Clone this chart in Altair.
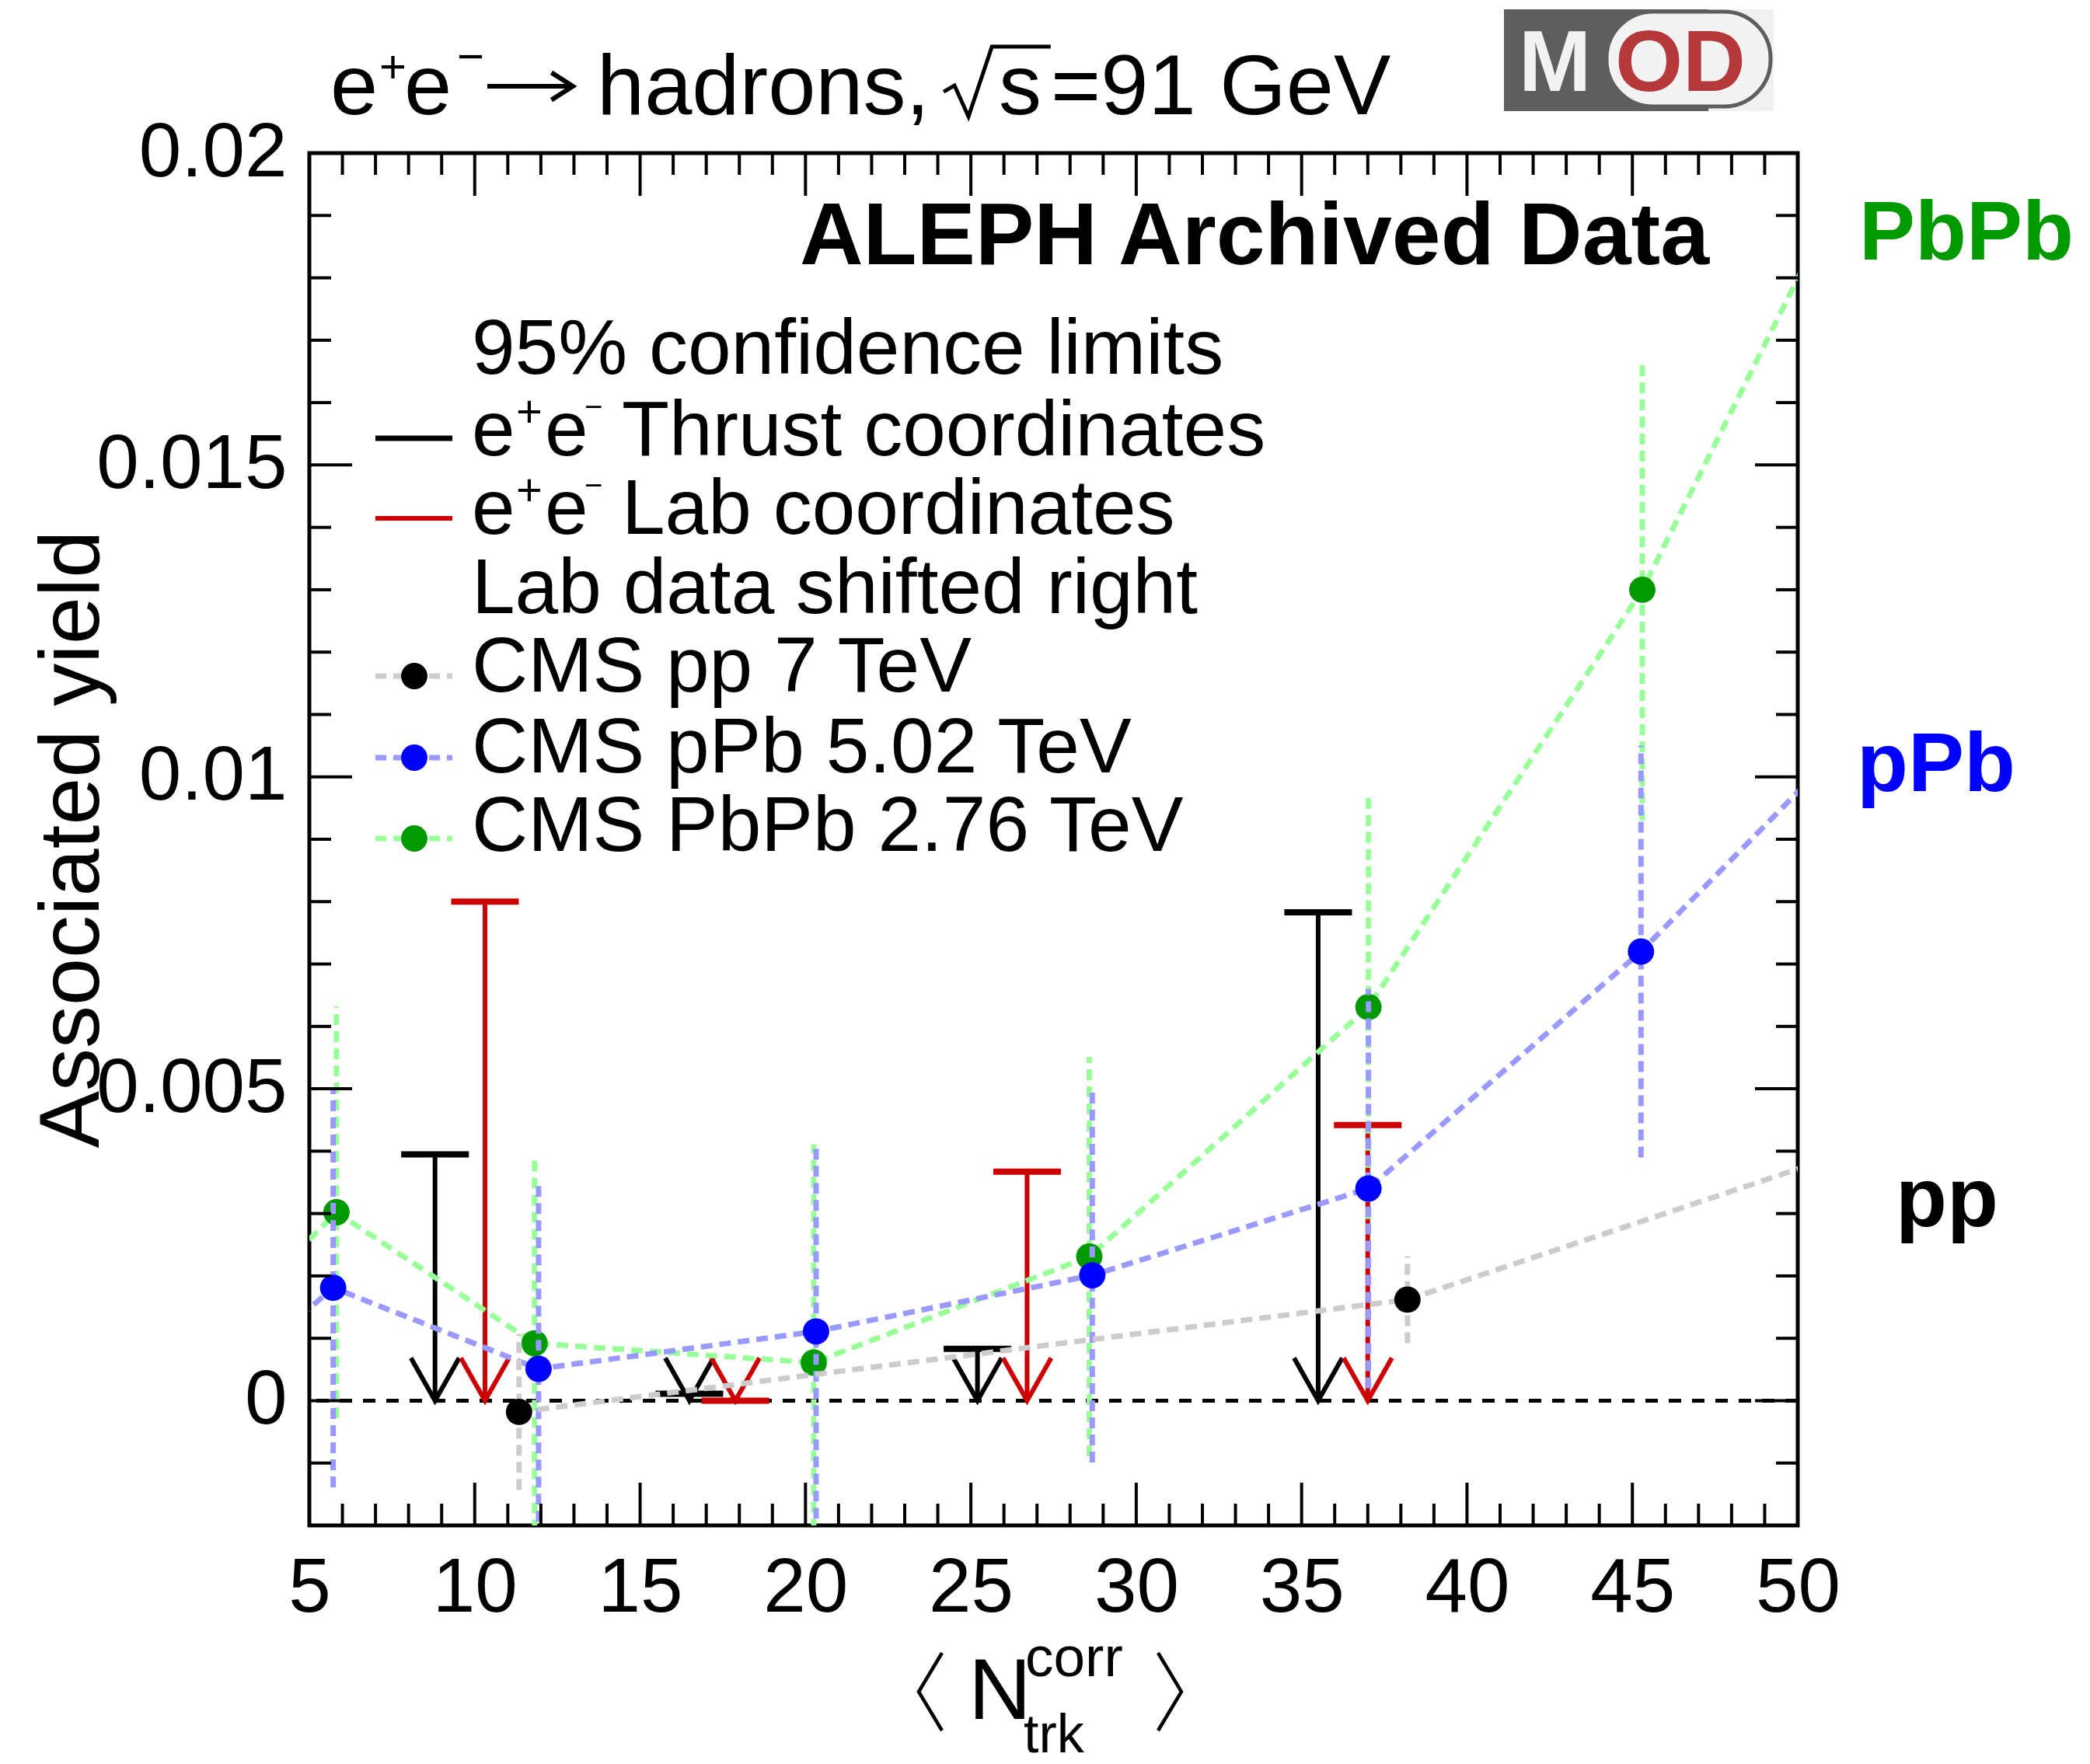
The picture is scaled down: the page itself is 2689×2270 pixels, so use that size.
import altair as alt
import pandas as pd

FONT = "Liberation Sans"

# ---------------- data ----------------
# CMS pp 7 TeV  (last point lies beyond the frame, only its connecting line shows)
pp_x = [11.34, 38.20, 55.0]
pp_y = [-0.00018, 0.00162, 0.0046]
pp_err = [0.00125, 0.00070, 0.00070]

# CMS pPb 5.02 TeV  (first / last points lie outside the frame)
ppb_x = [3.0, 5.72, 11.93, 20.32, 28.67, 37.02, 45.26, 55.0]
ppb_y = [0.00056, 0.00181, 0.00051, 0.00111, 0.00201, 0.00340, 0.00720, 0.01245]
ppb_err = [0.0031, 0.0032, 0.0030, 0.0030, 0.0030, 0.0032, 0.0033, 0.0035]

# CMS PbPb 2.76 TeV
pbpb_x = [3.0, 5.82, 11.81, 20.25, 28.58, 37.02, 45.30, 55.0]
pbpb_y = [0.00152, 0.00302, 0.00092, 0.00061, 0.00231, 0.00631, 0.01300, 0.02330]
pbpb_err = [0.0033, 0.0033, 0.0030, 0.0035, 0.0032, 0.0034, 0.0037, 0.0040]

# ALEPH 95% upper limits
thrust_x = [8.80, 16.49, 25.20, 35.50]
thrust_lim = [0.00395, 0.00011, 0.00083, 0.00783]
lab_x = [10.31, 17.88, 26.70, 37.00]
lab_lim = [0.00800, 0.00000, 0.00367, 0.00442]

# axis ticks / labels
x_labels = [5, 10, 15, 20, 25, 30, 35, 40, 45, 50]
x_minor = [v for v in range(6, 50) if v % 5 != 0]
y_labels = [0, 0.005, 0.01, 0.015, 0.02]
y_minor = [round(k * 0.001, 3) for k in range(-2, 21) if k % 5 != 0]

legend_rows = ["95% confidence limits", "Thrust coordinates", "Lab coordinates",
               "Lab data shifted right", "CMS pp 7 TeV", "CMS pPb 5.02 TeV",
               "CMS PbPb 2.76 TeV"]

# ---------------- layout ----------------
W, H = 1915, 1766
PAD = {"left": 398, "top": 197, "right": 376, "bottom": 307}

xs = alt.Scale(domain=[5, 50], nice=False, zero=False)
ys = alt.Scale(domain=[-0.002, 0.02], nice=False, zero=False)
xax = alt.Axis(values=x_labels, title=None, ticks=False, domain=False, grid=False,
               labelFont=FONT, labelFontSize=98, labelColor="black", labelPadding=33,
               labelFlush=False, labelOverlap=False, labelLimit=600)
yax = alt.Axis(values=y_labels, format="~g", title=None, ticks=False, domain=False,
               grid=False, labelFont=FONT, labelFontSize=98, labelColor="black",
               labelPadding=29, labelFlush=False, labelOverlap=False, labelLimit=600)


def X(f):
    return alt.X(f"{f}:Q", scale=xs, axis=xax)


def Y(f):
    return alt.Y(f"{f}:Q", scale=ys, axis=yax)


Y0 = alt.Y(datum=0, scale=ys, axis=yax)
one = pd.DataFrame({"k": [0]})

ARROW = "M-1,-1.77L0,0L1,-1.77"
RED = "#cc0000"
MSIZE = 1150


def series(x, y, err, line_col, mark_col):
    df = pd.DataFrame({"x": x, "y": y,
                       "lo": [a - b for a, b in zip(y, err)],
                       "hi": [a + b for a, b in zip(y, err)]})
    line = alt.Chart(df).mark_line(color=line_col, strokeWidth=7, strokeDash=[15, 9],
                                   clip=True).encode(x=X("x"), y=Y("y"))
    bars = alt.Chart(df).mark_rule(color=line_col, strokeWidth=7, strokeDash=[14, 8],
                                   clip=True).encode(x=X("x"), y=Y("lo"), y2=alt.Y2("hi"))
    dots = alt.Chart(df).mark_circle(color=mark_col, size=MSIZE, opacity=1,
                                     clip=True).encode(x=X("x"), y=Y("y"))
    return [line, bars, dots]


def limits(x, lim, col):
    df = pd.DataFrame({"x": x, "lim": lim})
    shaft = alt.Chart(df).mark_rule(color=col, strokeWidth=6).encode(
        x=X("x"), y=Y("lim"), y2=alt.Y2(datum=0))
    cap = alt.Chart(df).mark_tick(color=col, orient="horizontal", size=87, thickness=8,
                                  opacity=1).encode(x=X("x"), y=Y("lim"))
    head = alt.Chart(df).mark_point(shape=ARROW, size=3844, filled=False, color=col,
                                    strokeWidth=6, opacity=1).encode(x=X("x"), y=Y0)
    return [shaft, cap, head]


def xticks(vals, length):
    df = pd.DataFrame({"t": vals})
    b = alt.Chart(df).mark_rule(color="black", strokeWidth=4).encode(
        x=X("t"), y=alt.value(H), y2=alt.value(H - length))
    t = alt.Chart(df).mark_rule(color="black", strokeWidth=4).encode(
        x=X("t"), y=alt.value(0), y2=alt.value(length))
    return [b, t]


def yticks(vals, length):
    df = pd.DataFrame({"t": vals})
    l = alt.Chart(df).mark_rule(color="black", strokeWidth=4).encode(
        y=Y("t"), x=alt.value(0), x2=alt.value(length))
    r = alt.Chart(df).mark_rule(color="black", strokeWidth=4).encode(
        y=Y("t"), x=alt.value(W), x2=alt.value(W - length))
    return [l, r]


def txt(s, x, y, size, color="black", weight="normal", align="left",
        baseline="alphabetic", angle=0):
    return alt.Chart(one).mark_text(text=s, font=FONT, fontSize=size, fontWeight=weight,
                                    color=color, align=align, baseline=baseline,
                                    angle=angle).encode(x=alt.value(x), y=alt.value(y))


def shape(path, x, y, size, width=5, color="black"):
    return alt.Chart(one).mark_point(shape=path, size=size, filled=False, color=color,
                                     strokeWidth=width, opacity=1).encode(
        x=alt.value(x), y=alt.value(y))


def hline(x1, x2, y, width, color, dash=None):
    kw = dict(color=color, strokeWidth=width)
    if dash:
        kw["strokeDash"] = dash
    return alt.Chart(one).mark_rule(**kw).encode(x=alt.value(x1), x2=alt.value(x2),
                                                 y=alt.value(y))


def rect(x1, x2, y1, y2, **kw):
    return alt.Chart(one).mark_rect(**kw).encode(x=alt.value(x1), x2=alt.value(x2),
                                                 y=alt.value(y1), y2=alt.value(y2))


layers = []
# zero line
layers.append(alt.Chart(one).mark_rule(color="black", strokeWidth=5,
                                       strokeDash=[16, 14]).encode(y=Y0))
# ALEPH limits
layers += limits(thrust_x, thrust_lim, "black")
layers += limits(lab_x, lab_lim, RED)
# CMS data
layers += series(pbpb_x, pbpb_y, pbpb_err, "#99ff99", "#009900")
layers += series(ppb_x, ppb_y, ppb_err, "#9999ff", "#0000ff")
layers += series(pp_x, pp_y, pp_err, "#cccccc", "black")
# inner ticks
layers += xticks(x_labels, 55) + xticks(x_minor, 28)
layers += yticks(y_labels, 55) + yticks(y_minor, 28)

# title  e+e- -> hadrons, sqrt(s)=91 GeV
layers += [
    txt("e", 27, -50, 110),
    txt("+", 90, -91, 60),
    txt("e", 122, -50, 110),
    txt("\u2212", 190, -104, 60),
    shape("M-1,0L1,0M0.5,-0.32L1,0L0.5,0.32", 284, -86, 12100, 6),
    txt("hadrons,", 370, -50, 110),
    shape("M-0.82,0.29L-0.51,0.11L-0.11,1L0.56,-1L2.24,-1", 853, -92, 8100, 5),
    txt("s", 887, -50, 110),
    txt("=91 GeV", 954, -50, 110),
]

# MOD logo
layers += [
    rect(1537, 1884, -185, -54, color="#f0f0f0"),
    rect(1537, 1800, -185, -54, color="#5e5e5e"),
    rect(1669, 1880, -182, -60, fill="#f3f3f3", stroke="#5e5e5e", strokeWidth=5,
         cornerRadius=60),
    txt("M", 1556, -80, 112, color="#f2f2f2", weight="bold"),
    txt("OD", 1680, -80, 112, color="#b5383a", weight="bold"),
]

# headline and side labels
layers += [
    txt("ALEPH Archived Data", 1801, 143, 113, weight="bold", align="right"),
    txt("PbPb", 1994, 137, 108, color="#009900", weight="bold"),
    txt("pPb", 1991, 821, 108, color="#0000ff", weight="bold"),
    txt("pp", 2041, 1381, 108, weight="bold"),
]

# legend
rows = [284, 389, 490, 592, 693, 797, 898]
LX = 209
layers += [txt(legend_rows[0], LX, rows[0], 100)]
for i in (1, 2):
    r = rows[i]
    layers += [
        txt("e", LX, r, 100),
        txt("+", LX + 57, r - 37, 58),
        txt("e", LX + 94, r, 100),
        txt("\u2212", LX + 145, r - 49, 40),
        txt(legend_rows[i], 402, r, 100),
    ]
for i in (3, 4, 5, 6):
    layers += [txt(legend_rows[i], LX, rows[i], 100)]
layers += [
    hline(85, 184, 367, 7, "black"),
    hline(85, 184, 470, 6, RED),
]
for r, lc, mc in ((673, "#cccccc", "black"), (778, "#9999ff", "#0000ff"),
                  (882, "#99ff99", "#009900")):
    layers += [
        hline(85, 184, r, 7, lc, dash=[14, 9]),
        alt.Chart(one).mark_circle(color=mc, size=MSIZE, opacity=1).encode(
            x=alt.value(135), y=alt.value(r)),
    ]

# axis titles
layers += [
    txt("Associated yield", -271, 883, 110, align="center", angle=270),
    shape("M0.6,-1L0,0L0.6,1", 784, 1980, 10000, 4.5),
    txt("N", 848, 2015, 112),
    txt("corr", 921, 1960, 73),
    txt("trk", 919, 2058, 70),
    shape("M-0.6,-1L0,0L-0.6,1", 1122, 1980, 10000, 4.5),
]

chart = alt.layer(*layers).properties(
    width=W, height=H, padding=PAD,
    autosize=alt.AutoSizeParams(type="none"),
    background="white",
).configure_view(stroke="black", strokeWidth=5)

chart.save("out.html", embed_options={"renderer": "svg", "actions": False})
